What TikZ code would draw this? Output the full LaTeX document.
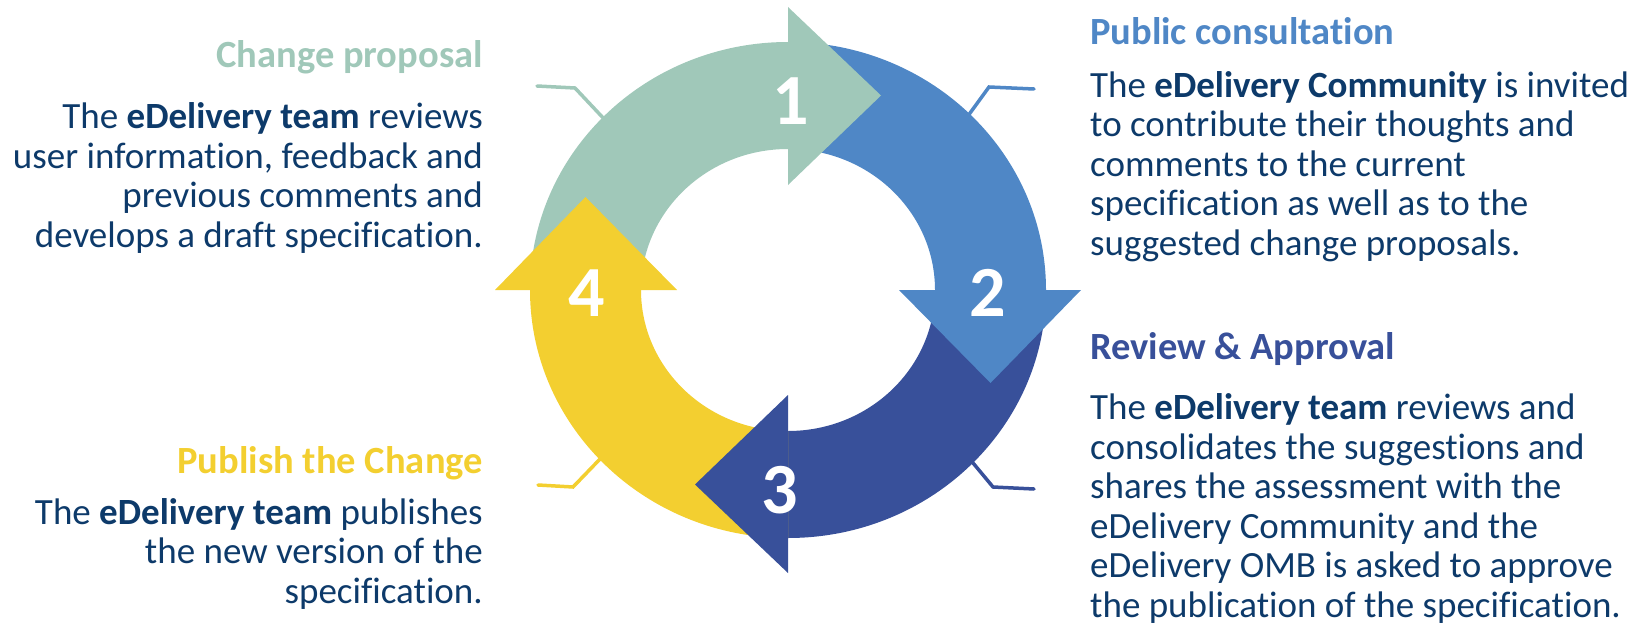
\documentclass[tikz,border=0pt]{standalone}
\usepackage{fontspec}
\setmainfont{Carlito}[Ligatures=NoCommon]
\usetikzlibrary{positioning,calc}
\definecolor{cpgreen}{HTML}{A0C8B9}
\definecolor{cpblue}{HTML}{4F87C6}
\definecolor{cpdark}{HTML}{38509A}
\definecolor{cpyellow}{HTML}{F3CF30}
\definecolor{cptext}{HTML}{0D3A6A}

\begin{document}
\begin{tikzpicture}[x=1pt,y=1pt,
  ttl/.style={inner sep=0pt, font=\fontsize{38.5}{40}\selectfont\bfseries},
  txt/.style={inner sep=0pt, text=cptext, font=\fontsize{37}{39.5}\selectfont},
  num/.style={inner sep=0pt, text=white, font=\fontsize{72}{72}\selectfont\bfseries},
  callout/.style={line width=3.5pt, line cap=round}]
  \useasboundingbox (0,0) rectangle (1639,-626);
  \coordinate (c) at (788,-290);

  % callout lines
  \coordinate (l1) at (537,-86);
  \coordinate (l2) at (1034,-89);
  \coordinate (l3) at (1034,-489);
  \coordinate (l4) at (538,-485);
  \draw[callout, cpgreen] (l1) -- ++(38,-2) -- ($(c)+(136:250 and 240)$);
  \draw[callout, cpblue] (l2) -- ++(-45,2) -- ($(c)+(45:250 and 240)$);
  \draw[callout, cpdark] (l3) -- ++(-41,2) -- ($(c)+(-44:250 and 240)$);
  \draw[callout, cpyellow] (l4) -- ++(35,-2) -- ($(c)+(223:250 and 240)$);

  % ring segments, then heads on top
  \foreach \a/\col in {90/cpgreen, 0/cpblue, -90/cpdark, 180/cpyellow}
    \fill[\col] ($(c)+(\a+90:258 and 248)$)
      arc[start angle=\a+90, end angle=\a, x radius=258, y radius=248]
      -- ($(c)+(\a:147 and 141)$)
      arc[start angle=\a, end angle=\a+90, x radius=147, y radius=141] -- cycle;
  \foreach \a/\col in {90/cpgreen, 0/cpblue, -90/cpdark, 180/cpyellow}
    \fill[\col] ($(c)+(\a:293 and 283)$)
      -- ($(c)+(\a:202.5 and 194.5)+(\a-90:93)$)
      -- ($(c)+(\a:111 and 105)$) -- cycle;

  \node[num] (n1) at (791,-101) {1};
  \node[num] (n2) at (988,-293) {2};
  \node[num] (n3) at (780,-490) {3};
  \node[num] (n4) at (587,-293) {4};

  % texts (base = last line)
  \node[ttl, text=cpgreen, anchor=base east] (t1) at (483,-67) {Change\ proposal};
  \node[txt, align=right, anchor=base east] (d1) at (483,-247)
    {The \textbf{eDelivery team} reviews\\user information, feedback and\\previous comments and\\develops a draft specification.};
  \node[ttl, text=cpblue, anchor=base west] (t2) at (1090,-45) {Public consultation};
  \node[txt, align=left, anchor=base west] (d2) at (1090,-255)
    {The \textbf{eDelivery Community} is invited\\to contribute their thoughts and\\comments to the current\\specification as well as to the\\suggested change proposals.};
  \node[ttl, text=cpdark, anchor=base west] (t3) at (1090,-359) {Review \& Approval};
  \node[txt, align=left, anchor=base west] (d3) at (1090,-617)
    {The \textbf{eDelivery team} reviews and\\consolidates the suggestions and\\shares the assessment with the\\eDelivery Community and the\\eDelivery OMB is asked to approve\\the publication of the specification.};
  \node[ttl, text=cpyellow, anchor=base east] (t4) at (483,-473) {Publish the Change};
  \node[txt, align=right, anchor=base east] (d4) at (483,-603)
    {The \textbf{eDelivery team} publishes\\the new version of the\\specification.};
\end{tikzpicture}
\end{document}
